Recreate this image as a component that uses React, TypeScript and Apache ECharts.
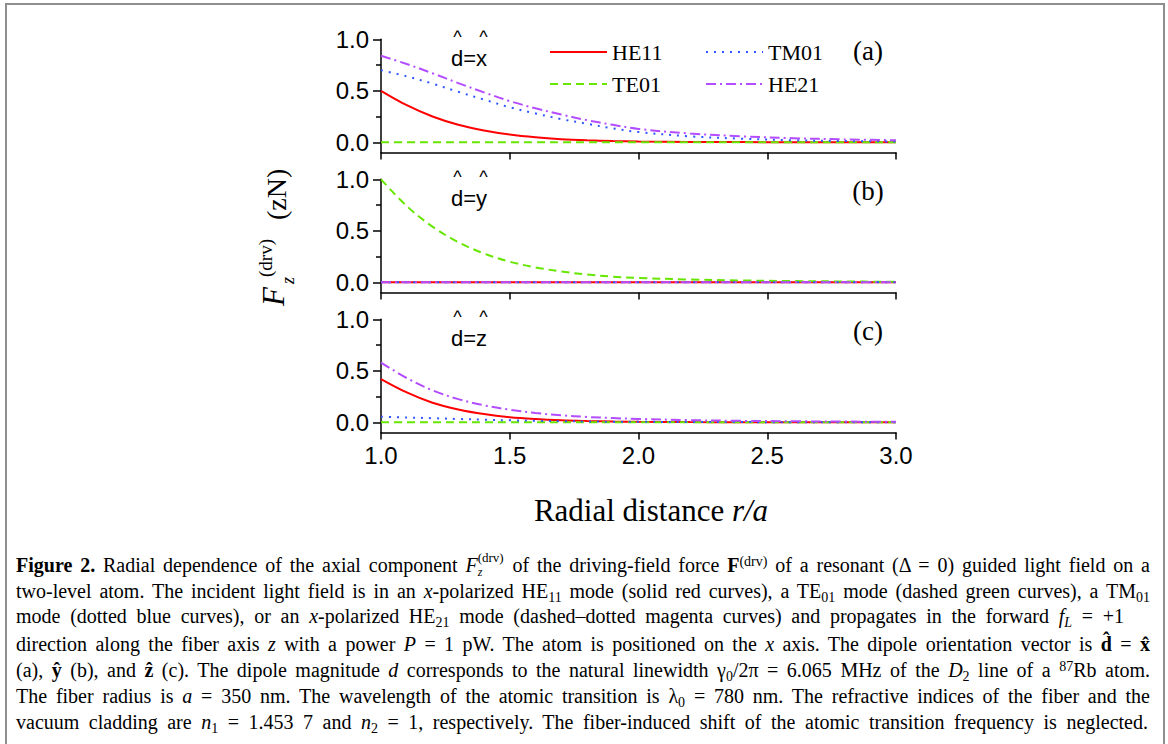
import React, { useEffect, useRef } from "react";
import * as echarts from "echarts";

// ---------- data ----------
const R = [1.0, 1.1, 1.2, 1.3, 1.4, 1.5, 1.6, 1.7, 1.8, 1.9, 2.0, 2.2, 2.4, 2.6, 2.8, 3.0];

// panel (a): d = x
const A_HE11 = [0.5, 0.36, 0.25, 0.17, 0.115, 0.075, 0.048, 0.03, 0.019, 0.012, 0.008, 0.004, 0.002, 0.001, 0.0005, 0];
const A_TE01 = [0, 0, 0, 0, 0, 0, 0, 0, 0, 0, 0, 0, 0, 0, 0, 0];
const A_TM01 = [0.7, 0.64, 0.57, 0.49, 0.415, 0.34, 0.28, 0.225, 0.18, 0.135, 0.1, 0.058, 0.035, 0.02, 0.012, 0.008];
const A_HE21 = [0.84, 0.76, 0.67, 0.575, 0.485, 0.4, 0.33, 0.27, 0.215, 0.17, 0.13, 0.085, 0.058, 0.04, 0.028, 0.02];

// panel (b): d = y
const B_HE11 = [0, 0, 0, 0, 0, 0, 0, 0, 0, 0, 0, 0, 0, 0, 0, 0];
const B_TE01 = [1.0, 0.74, 0.54, 0.39, 0.28, 0.2, 0.145, 0.105, 0.075, 0.055, 0.042, 0.027, 0.018, 0.012, 0.008, 0.005];
const B_TM01 = [0, 0, 0, 0, 0, 0, 0, 0, 0, 0, 0, 0, 0, 0, 0, 0];
const B_HE21 = [0, 0, 0, 0, 0, 0, 0, 0, 0, 0, 0, 0, 0, 0, 0, 0];

// panel (c): d = z
const C_HE11 = [0.42, 0.29, 0.19, 0.125, 0.08, 0.05, 0.032, 0.02, 0.013, 0.008, 0.005, 0.002, 0.001, 0, 0, 0];
const C_TE01 = [0, 0, 0, 0, 0, 0, 0, 0, 0, 0, 0, 0, 0, 0, 0, 0];
const C_TM01 = [0.055, 0.047, 0.04, 0.032, 0.025, 0.019, 0.015, 0.011, 0.008, 0.006, 0.005, 0.003, 0.002, 0.001, 0.001, 0];
const C_HE21 = [0.58, 0.43, 0.31, 0.225, 0.165, 0.122, 0.09, 0.068, 0.052, 0.041, 0.033, 0.021, 0.014, 0.01, 0.007, 0.005];

const MODES = ["HE11", "TE01", "TM01", "HE21"];
const PANELS = [
  [A_HE11, A_TE01, A_TM01, A_HE21],
  [B_HE11, B_TE01, B_TM01, B_HE21],
  [C_HE11, C_TE01, C_TM01, C_HE21],
];
const PANEL_LABELS = ["(a)", "(b)", "(c)"];
const DIPOLE_LABELS = ["d=x", "d=y", "d=z"];
const HAT = "^";
const Y_MAJOR = [0, 0.5, 1.0];
const Y_MINOR = [0.25, 0.75];
const X_LABEL = "Radial distance ";
const X_LABEL_ITALIC = "r/a";

// ---------- styles ----------
const SANS = '"Liberation Sans", Arial, sans-serif';
const SERIF = '"Liberation Serif", "Times New Roman", serif';
const MODE_STYLE: Record<string, { color: string; type: any }> = {
  HE11: { color: "#ff0000", type: "solid" },
  TE01: { color: "#66e600", type: [8, 5] },
  TM01: { color: "#2f55ff", type: [2, 6] },
  HE21: { color: "#b34dff", type: [10, 4, 2, 4] },
};
const GRID_LEFT = 381;
const GRID_WIDTH = 515;
const GRID_TOPS = [39.3, 179.3, 319.3];
const GRID_HEIGHT = 113.3;

function buildOption() {
  const grid = GRID_TOPS.map((t) => ({ left: GRID_LEFT, top: t, width: GRID_WIDTH, height: GRID_HEIGHT }));
  const axisLine = { show: true, onZero: false, lineStyle: { color: "#000", width: 1.5 } };
  const xAxis = GRID_TOPS.map((_, i) => ({
    type: "value",
    gridIndex: i,
    min: 1,
    max: 3,
    interval: 0.5,
    axisLine,
    axisTick: { show: true, length: 7, lineStyle: { color: "#000", width: 1.5 } },
    axisLabel: {
      show: i === 2,
      fontSize: 24,
      fontFamily: SANS,
      color: "#000",
      margin: 11,
      formatter: (v: number) => v.toFixed(1),
    },
    splitLine: { show: false },
  }));
  const yAxis: any[] = [];
  GRID_TOPS.forEach((_, i) => {
    yAxis.push({
      type: "value",
      gridIndex: i,
      min: -0.1,
      max: 1.0,
      position: "left",
      axisLine,
      axisTick: { show: true, length: 8, customValues: Y_MAJOR, lineStyle: { color: "#000", width: 1.5 } },
      axisLabel: {
        customValues: Y_MAJOR,
        fontSize: 24,
        fontFamily: SANS,
        color: "#000",
        margin: 12,
        formatter: (v: number) => v.toFixed(1),
      },
      splitLine: { show: false },
    });
    yAxis.push({
      type: "value",
      gridIndex: i,
      min: -0.1,
      max: 1.0,
      position: "left",
      offset: 0,
      axisLine: { show: false },
      axisTick: { show: true, length: 5, customValues: Y_MINOR, lineStyle: { color: "#000", width: 1.5 } },
      axisLabel: { show: false },
      splitLine: { show: false },
    });
  });

  const series: any[] = [];
  PANELS.forEach((vals, p) => {
    MODES.forEach((m, k) => {
      const st = MODE_STYLE[m];
      series.push({
        type: "line",
        name: m,
        xAxisIndex: p,
        yAxisIndex: p * 2,
        data: R.map((r, j) => [r, vals[k][j]]),
        symbol: "none",
        smooth: 0.35,
        z: 2 + k,
        lineStyle: { color: st.color, width: 2, type: st.type },
        itemStyle: { color: st.color },
      });
    });
  });

  const legendCommon = {
    orient: "vertical",
    top: 35,
    itemWidth: 57,
    itemHeight: 14,
    itemGap: 8,
    selectedMode: false,
    itemStyle: { opacity: 0 },
    textStyle: { fontFamily: SERIF, fontSize: 22, color: "#000", lineHeight: 24 },
  };
  const legend = [
    { ...legendCommon, left: 544, data: ["HE11", "TE01"] },
    { ...legendCommon, left: 700, data: ["TM01", "HE21"] },
  ];

  const graphic: any[] = [];
  GRID_TOPS.forEach((t, i) => {
    const dy = t - GRID_TOPS[0];
    graphic.push({
      type: "text",
      x: 868,
      y: 51 + dy,
      style: { text: PANEL_LABELS[i], font: `27px ${SERIF}`, fill: "#000", align: "center", verticalAlign: "middle" },
    });
    graphic.push({
      type: "text",
      x: 451,
      y: 58 + dy,
      style: { text: DIPOLE_LABELS[i], font: `22px ${SANS}`, fill: "#000", align: "left", verticalAlign: "middle" },
    });
    [457.5, 483.5].forEach((hx) => {
      graphic.push({
        type: "text",
        x: hx,
        y: 36.5 + dy,
        style: { text: HAT, font: `18px ${SANS}`, fill: "#000", align: "center", verticalAlign: "middle" },
      });
    });
  });
  // x-axis title
  graphic.push({
    type: "text",
    x: 651,
    y: 510,
    style: {
      text: `{a|${X_LABEL}}{b|${X_LABEL_ITALIC}}`,
      align: "center",
      verticalAlign: "middle",
      fill: "#000",
      rich: {
        a: { fontFamily: SERIF, fontSize: 31, fill: "#000" },
        b: { fontFamily: SERIF, fontSize: 31, fontStyle: "italic", fill: "#000" },
      },
    },
  });
  // y-axis title (rotated)
  graphic.push({
    type: "group",
    x: 273,
    y: 306,
    rotation: Math.PI / 2,
    children: [
      { type: "text", x: 0, y: 0, style: { text: "F", font: `italic 31px ${SERIF}`, fill: "#000", align: "left", verticalAlign: "middle" } },
      { type: "text", x: 22, y: 15, style: { text: "z", font: `italic 18px ${SERIF}`, fill: "#000", align: "left", verticalAlign: "middle" } },
      { type: "text", x: 29, y: -8, style: { text: "(drv)", font: `19px ${SERIF}`, fill: "#000", align: "left", verticalAlign: "middle" } },
      { type: "text", x: 86, y: 3, style: { text: "(zN)", font: `28px ${SERIF}`, fill: "#000", align: "left", verticalAlign: "middle" } },
    ],
  });

  return { animation: false, grid, xAxis, yAxis, series, legend, graphic };
}

const sub = { fontSize: "0.7em", verticalAlign: "-0.25em", lineHeight: 0 } as React.CSSProperties;
const sup = { fontSize: "0.7em", verticalAlign: "0.45em", lineHeight: 0 } as React.CSSProperties;

function CapLine({ top, width, children }: { top: number; width: number; children: React.ReactNode }) {
  return (
    <div
      style={{
        position: "absolute",
        left: 16,
        top,
        width,
        whiteSpace: "nowrap",
        textAlign: "justify",
        textAlignLast: "justify",
        lineHeight: "26px",
        fontFamily: SERIF,
        fontSize: 20,
        color: "#000",
      }}
    >
      {children}
    </div>
  );
}

export default function App() {
  const ref = useRef<HTMLDivElement>(null);
  useEffect(() => {
    if (!ref.current) return;
    const chart = echarts.init(ref.current, undefined, { renderer: "svg" });
    chart.setOption(buildOption() as any);
    return () => chart.dispose();
  }, []);

  const stacked = (
    <span style={{ display: "inline-block", position: "relative", width: 27, height: 0, lineHeight: 1 }}>
      <span style={{ position: "absolute", left: 0, top: -21, fontSize: 13, whiteSpace: "nowrap" }}>(drv)</span>
      <span style={{ position: "absolute", left: 0, top: -6.5, fontSize: 12, fontStyle: "italic" }}>z</span>
    </span>
  );

  return (
    <div style={{ position: "absolute", left: 0, top: 0, width: 1168, height: 744, background: "#fff", overflow: "hidden" }}>
      <div
        style={{
          position: "absolute",
          left: 5,
          top: 3,
          width: 1156,
          height: 760,
          borderTop: "2px solid #8e8e8e",
          borderLeft: "2px solid #8e8e8e",
          borderRight: "2px solid #8e8e8e",
        }}
      />
      <div ref={ref} style={{ position: "absolute", left: 0, top: 0, width: 1168, height: 560 }} />
      <CapLine top={552} width={1134}>
        <b>Figure 2.</b> Radial dependence of the axial component <i>F</i>
        {stacked} of the driving-field force <b>F</b>
        <span style={sup}>(drv)</span> of a resonant (Δ = 0) guided light field on a
      </CapLine>
      <CapLine top={578} width={1134}>
        two-level atom. The incident light field is in an <i>x</i>-polarized HE<span style={sub}>11</span> mode (solid red
        curves), a TE<span style={sub}>01</span> mode (dashed green curves), a TM<span style={sub}>01</span>
      </CapLine>
      <CapLine top={603} width={1108}>
        mode (dotted blue curves), or an <i>x</i>-polarized HE<span style={sub}>21</span> mode (dashed–dotted magenta
        curves) and propagates in the forward <i>f</i>
        <span style={sub}>
          <i>L</i>
        </span>{" "}
        = +1
      </CapLine>
      <CapLine top={631} width={1134}>
        direction along the fiber axis <i>z</i> with a power <i>P</i> = 1 pW. The atom is positioned on the <i>x</i> axis.
        The dipole orientation vector is <b>d̂</b> = <b>x̂</b>
      </CapLine>
      <CapLine top={657} width={1134}>
        (a), <b>ŷ</b> (b), and <b>ẑ</b> (c). The dipole magnitude <i>d</i> corresponds to the natural linewidth γ
        <span style={sub}>0</span>/2π = 6.065 MHz of the <i>D</i>
        <span style={sub}>2</span> line of a <span style={sup}>87</span>Rb atom.
      </CapLine>
      <CapLine top={683} width={1134}>
        The fiber radius is <i>a</i> = 350 nm. The wavelength of the atomic transition is λ<span style={sub}>0</span> = 780
        nm. The refractive indices of the fiber and the
      </CapLine>
      <CapLine top={709} width={1132}>
        vacuum cladding are <i>n</i>
        <span style={sub}>1</span> = 1.453 7 and <i>n</i>
        <span style={sub}>2</span> = 1, respectively. The fiber-induced shift of the atomic transition frequency is
        neglected.
      </CapLine>
    </div>
  );
}
